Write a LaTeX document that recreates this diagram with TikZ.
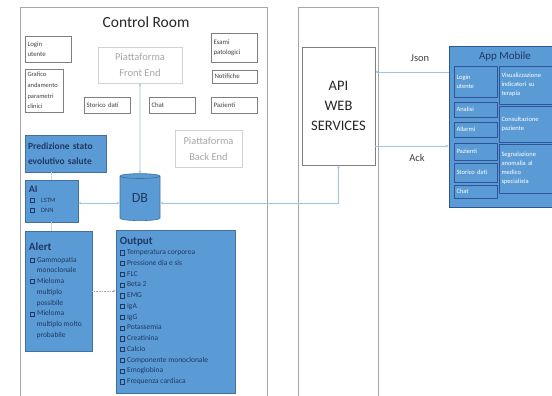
\documentclass[tikz,border=0pt]{standalone}
\usepackage{fontspec}
\setmainfont{Carlito}
\usetikzlibrary{shapes.geometric,arrows.meta,calc}
\definecolor{bfill}{HTML}{5B9BD5}
\definecolor{bdraw}{HTML}{41719C}
\definecolor{navy}{HTML}{1F3864}
\definecolor{connc}{HTML}{9DC3E6}
\definecolor{gframe}{HTML}{A6A6A6}
\definecolor{wframe}{HTML}{7F7F7F}
\definecolor{dtext}{HTML}{404040}
\definecolor{ltext}{HTML}{A6A6A6}
\definecolor{appdraw}{HTML}{2F5597}
\newcommand\cbx{\raisebox{0.2pt}{\fboxsep=0pt\fboxrule=0.5pt\fbox{\rule{0pt}{3.6pt}\rule{3.6pt}{0pt}}}\hspace{2.6pt}}
\newcommand\cbind{\hspace*{6.7pt}}
\begin{document}
\begin{tikzpicture}[x=1pt,y=-1pt,
  container/.style={draw=gframe, line width=0.8pt, inner sep=0pt},
  wbox/.style={draw=wframe, line width=0.6pt, fill=white, text=dtext, align=left, inner sep=2.5pt, font=\fontsize{6.8}{9.5}\selectfont},
  plat/.style={draw=ltext!50, line width=0.6pt, text=ltext, align=center, inner sep=0pt, font=\fontsize{10.5}{16}\selectfont},
  bbox/.style={draw=bdraw, fill=bfill, line width=0.6pt, inner sep=0pt},
  appbox/.style={draw=appdraw, fill=bfill, line width=0.6pt, text=white, align=left, inner sep=2.5pt, font=\fontsize{6.5}{9}\selectfont},
  btitle/.style={anchor=west, text=navy, inner sep=0pt, font=\fontsize{11}{13}\selectfont\bfseries},
  blist/.style={anchor=north west, text=navy, align=left, inner sep=0pt, font=\fontsize{7.5}{10.75}\selectfont},
  link/.style={draw=connc, line width=0.6pt},
  tips/.style={{Stealth[length=3pt,width=2.6pt]}-{Stealth[length=3pt,width=2.6pt]}},
  tip/.style={-{Stealth[length=3pt,width=2.6pt]}},
  thin/.style={draw=gray!35, line width=0.6pt},
  lbl/.style={text=dtext, inner sep=0pt, font=\fontsize{10.5}{12}\selectfont}
]
\useasboundingbox (0,0) rectangle (552,396);

% containers
\node[container, minimum width=247pt, minimum height=395pt] (cr) at (143.5,204.5) {};
\node[container, minimum width=80pt, minimum height=395pt] (apiouter) at (338,204.5) {};
\node[text=black!85, inner sep=0pt, font=\fontsize{15.5}{18}\selectfont] (crtitle) at (146,22) {Control Room};

% control room white boxes
\node[wbox, minimum width=46pt, minimum height=26pt, text width=41pt] (login) at (48,49) {Login\\utente};
\node[wbox, minimum width=38pt, minimum height=43pt, text width=33pt, font=\fontsize{6.5}{10.7}\selectfont] (grafico) at (44,90.5) {Grafico\\andamento\\parametri\\clinici};
\node[plat, minimum width=84pt, minimum height=36pt] (fe) at (140,65) {Piattaforma\\Front End};
\node[wbox, minimum width=46pt, minimum height=29pt, text width=41pt] (esami) at (234,47.5) {Esami\\patologici};
\node[wbox, minimum width=45pt, minimum height=13pt, text width=40pt] (notif) at (234.5,76.5) {Notifiche};
\node[wbox, minimum width=46pt, minimum height=16pt, text width=41pt] (storico) at (107,105) {Storico dati};
\node[wbox, minimum width=46pt, minimum height=16pt, text width=41pt] (chat) at (172,105) {Chat};
\node[wbox, minimum width=46pt, minimum height=16pt, text width=41pt] (pazienti) at (234,105) {Pazienti};
\node[plat, minimum width=67pt, minimum height=37pt] (be) at (208.5,148.5) {Piattaforma\\Back End};

% blue boxes
\node[bbox, minimum width=81pt, minimum height=37pt, text width=75pt, align=left, text=navy, font=\fontsize{9.5}{15.5}\selectfont\bfseries, inner sep=3pt] (pred) at (65.5,153.5) {Predizione stato\\evolutivo salute};
\node[bbox, minimum width=53pt, minimum height=42pt] (ai) at (51.5,201) {};
\node[btitle, font=\fontsize{10}{12}\selectfont\bfseries] (aititle) at ($(ai.north west)+(4,10)$) {AI};
\node[blist, font=\fontsize{6.5}{10}\selectfont] (aiitems) at ($(ai.north west)+(5,18)$) {\cbx\hspace{4pt}LSTM\\\cbx\hspace{4pt}DNN};
\node[cylinder, shape border rotate=90, aspect=0.3, draw=bdraw, fill=bfill, line width=0.6pt, minimum width=40pt, minimum height=47pt, inner sep=0pt, text=navy, font=\fontsize{14}{16}\selectfont] (db) at (140,198.5) {DB};
\node[bbox, minimum width=67pt, minimum height=120pt] (alert) at (58.5,291) {};
\node[btitle] (alerttitle) at ($(alert.north west)+(4,16)$) {Alert};
\node[blist] (alertitems) at ($(alert.north west)+(5,26)$) {\cbx Gammopatia\\\cbind monoclonale\\\cbx Mieloma\\\cbind multiplo\\\cbind possibile\\\cbx Mieloma\\\cbind multiplo molto\\\cbind probabile};
\node[bbox, minimum width=119pt, minimum height=163pt] (out) at (175.5,311.5) {};
\node[btitle] (outtitle) at ($(out.north west)+(4,12)$) {Output};
\node[blist] (outitems) at ($(out.north west)+(4,20)$) {\cbx Temperatura corporea\\\cbx Pressione dia e sis\\\cbx FLC\\\cbx Beta 2\\\cbx EMG\\\cbx IgA\\\cbx IgG\\\cbx Potassemia\\\cbx Creatinina\\\cbx Calcio\\\cbx Componente monoclonale\\\cbx Emoglobina\\\cbx Frequenza cardiaca};

% API
\node[draw=wframe, line width=0.7pt, fill=white, minimum width=73pt, minimum height=118pt, align=center, text=black!85, font=\fontsize{14.5}{20}\selectfont] (api) at (338.5,106) {API\\WEB\\SERVICES};

% App Mobile
\node[draw=appdraw, fill=bfill, line width=0.8pt, minimum width=115pt, minimum height=161pt, inner sep=0pt] (app) at (506.5,126.5) {};
\node[text=navy, inner sep=0pt, font=\fontsize{11}{13}\selectfont] (apptitle) at (505,57) {App Mobile};
\node[appbox, minimum width=43pt, minimum height=31pt, text width=38pt] (alogin) at (475.5,81.5) {Login\\utente};
\node[appbox, minimum width=43pt, minimum height=15pt, text width=38pt] (aanal) at (475.5,109.5) {Analisi};
\node[appbox, minimum width=43pt, minimum height=15pt, text width=38pt] (aallarmi) at (475.5,129.5) {Allarmi};
\node[appbox, minimum width=43pt, minimum height=17pt, text width=38pt] (apaz) at (475.5,151.5) {Pazienti};
\node[appbox, minimum width=43pt, minimum height=19pt, text width=38pt] (astor) at (475.5,172.5) {Storico dati};
\node[appbox, minimum width=43pt, minimum height=13pt, text width=38pt] (achat) at (475.5,191.5) {Chat};
\node[appbox, minimum width=60pt, minimum height=38pt, text width=55pt] (avis) at (529,85) {Visualizzazione\\indicatori su\\terapia};
\node[appbox, minimum width=60pt, minimum height=36pt, text width=55pt] (acons) at (529,124) {Consultazione\\paziente};
\node[appbox, minimum width=60pt, minimum height=49pt, text width=55pt] (asegn) at (529,168.5) {Segnalazione\\anomalia al\\medico\\specialista};

% connectors
\coordinate (jy) at (0,72);
\coordinate (ay) at (0,146);
\coordinate (dy) at (0,203);
\draw[link, tip] (app.west |- jy) -- (api.east |- jy);
\draw[link, tip] (api.east |- ay) -- (app.west |- ay);
\node[lbl] (json) at (420,58) {Json};
\node[lbl] (ack) at (417,158) {Ack};
\draw[link, tips] (fe.south) -- (db.north);
\draw[link, tips] (ai.east |- dy) -- (db.west |- dy);
\draw[link, tips] (db.east |- dy) -| (api.south);
\draw[thin] (ai.north |- pred.south) -- (ai.north);
\draw[thin] (ai.south) -- (ai.south |- alert.north);
\draw[draw=gframe, line width=0.6pt, densely dotted, tip] (alert.east) -- (out.west |- alert.east);
\end{tikzpicture}
\end{document}
